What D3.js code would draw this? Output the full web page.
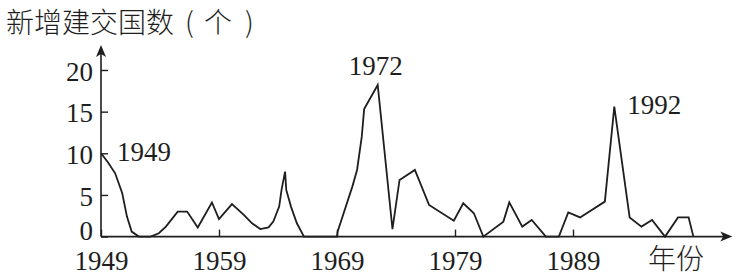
<!DOCTYPE html>
<html>
<head>
<meta charset="utf-8">
<script src="https://cdn.jsdelivr.net/npm/d3@7/dist/d3.min.js"></script>
<style>
  html, body { margin: 0; padding: 0; background: #fff; }
  svg { display: block; }
  .num { font-family: "Liberation Serif", "Times New Roman", serif; font-size: 27px; fill: #1e1e1e; }
  .cjk { font-family: "Noto Sans CJK SC", sans-serif; font-size: 28px; font-weight: 300; fill: #1e1e1e; }
</style>
</head>
<body>
<svg id="chart" width="740" height="278"></svg>
<script>
// ---- data ----
const years = [
  1949.0, 1949.6, 1950.2, 1950.8, 1951.2, 1951.6, 1952.2, 1953.2, 1953.9, 1954.5,
  1955.0, 1955.5, 1956.3, 1957.2, 1958.4, 1959.0, 1960.1, 1961.1, 1961.8, 1962.5,
  1963.2, 1963.6, 1964.1, 1964.3, 1964.6, 1964.7, 1965.1, 1965.6, 1966.2, 1969.0,
  1969.05, 1970.3, 1970.7, 1971.1, 1971.3, 1972.45, 1973.7, 1974.3, 1975.6, 1976.8,
  1978.9, 1979.7, 1980.6, 1981.4, 1983.1, 1983.6, 1984.7, 1985.5, 1986.7, 1987.8,
  1988.6, 1989.6, 1991.7, 1992.5, 1993.8, 1994.8, 1995.7, 1996.8, 1997.9, 1998.8,
  1999.2
];
const counts = [
  10.0, 8.9, 7.6, 5.2, 2.4, 0.6, 0, 0, 0.4, 1.2,
  2.1, 3.0, 3.0, 1.1, 4.1, 2.1, 3.9, 2.6, 1.6, 0.9,
  1.1, 1.8, 3.6, 5.6, 7.8, 5.6, 3.6, 1.6, 0, 0,
  0.6, 6.0, 8.0, 12.0, 15.3, 18.2, 0.9, 6.8, 8.0, 3.8,
  1.9, 4.0, 2.8, 0, 1.8, 4.1, 1.2, 2.0, 0, 0,
  2.9, 2.3, 4.2, 15.6, 2.3, 1.2, 2.0, 0, 2.3, 2.3,
  0
];
const xTicks = [1949, 1959, 1969, 1979, 1989];
const yTicks = [0, 5, 10, 15, 20];
const annoYears = [1949, 1972.45, 1992.5];
const annoValues = [10, 18.2, 15.6];
const annoLabels = ["1949", "1972", "1992"];
const yTitleParts = ["新增建交国数", "(", "个", ")"];
const xTitle = "年份";

// ---- drawing ----
const svg = d3.select("#chart");
const ink = "#1e1e1e";

const x = d3.scaleLinear().domain([1949, 2002.5]).range([101, 732.3]);
const y = d3.scaleLinear().domain([0, 23]).range([236.6, 45]);

// x axis (ticks pointing up)
const gx = svg.append("g")
  .attr("transform", `translate(0,${y(0)})`)
  .call(d3.axisBottom(x).tickValues(xTicks).tickFormat(d3.format("d"))
        .tickSizeInner(-7).tickSizeOuter(0).tickPadding(14));
gx.select(".domain").remove();
gx.selectAll("line").attr("stroke", ink).attr("stroke-width", 1.4);
gx.selectAll("text").attr("class", "num").attr("font-size", null).attr("font-family", null);

// y axis (ticks pointing right)
const gy = svg.append("g")
  .attr("transform", `translate(${x(1949)},0)`)
  .call(d3.axisLeft(y).tickValues(yTicks).tickFormat(d3.format("d"))
        .tickSizeInner(-7).tickSizeOuter(0).tickPadding(8));
gy.select(".domain").remove();
gy.selectAll("line").attr("stroke", ink).attr("stroke-width", 1.4);
gy.selectAll("text").attr("class", "num").attr("font-size", null).attr("font-family", null)
  .attr("dy", d => d === 0 ? "0.12em" : "0.38em");

// axis lines with arrows
const x0 = x(1949), yb = y(0);
svg.append("line").attr("x1", x0).attr("y1", yb).attr("x2", x.range()[1] - 4).attr("y2", yb)
  .attr("stroke", ink).attr("stroke-width", 1.6);
svg.append("line").attr("x1", x0).attr("y1", yb).attr("x2", x0).attr("y2", y.range()[1] + 4)
  .attr("stroke", ink).attr("stroke-width", 1.6);
const xe = x.range()[1], ye = y.range()[1];
svg.append("path")
  .attr("d", `M${xe},${yb} L${xe - 12},${yb - 5} L${xe - 9},${yb} L${xe - 12},${yb + 5} Z`)
  .attr("fill", ink);
svg.append("path")
  .attr("d", `M${x0},${ye} L${x0 - 5},${ye + 12} L${x0},${ye + 9} L${x0 + 5},${ye + 12} Z`)
  .attr("fill", ink);

// data line
const pts = years.map((yr, i) => [yr, counts[i]]);
svg.append("path")
  .datum(pts)
  .attr("fill", "none")
  .attr("stroke", ink)
  .attr("stroke-width", 1.8)
  .attr("stroke-linejoin", "miter")
  .attr("d", d3.line().x(d => x(d[0])).y(d => y(d[1])).curve(d3.curveLinear));

// annotations
const annoOffsets = [[16, 8, "start"], [-2, -10, "middle"], [13, 7, "start"]];
annoLabels.forEach((t, i) => {
  svg.append("text").attr("class", "num")
    .attr("x", x(annoYears[i]) + annoOffsets[i][0])
    .attr("y", y(annoValues[i]) + annoOffsets[i][1])
    .attr("text-anchor", annoOffsets[i][2])
    .text(t);
});

// titles
const titleX = [6, 185, 204, 245];
yTitleParts.forEach((p, i) => {
  svg.append("text").attr("class", "cjk").attr("x", titleX[i]).attr("y", 33).text(p);
});
svg.append("text").attr("class", "cjk").attr("x", 648).attr("y", 269).text(xTitle);
</script>
</body>
</html>
